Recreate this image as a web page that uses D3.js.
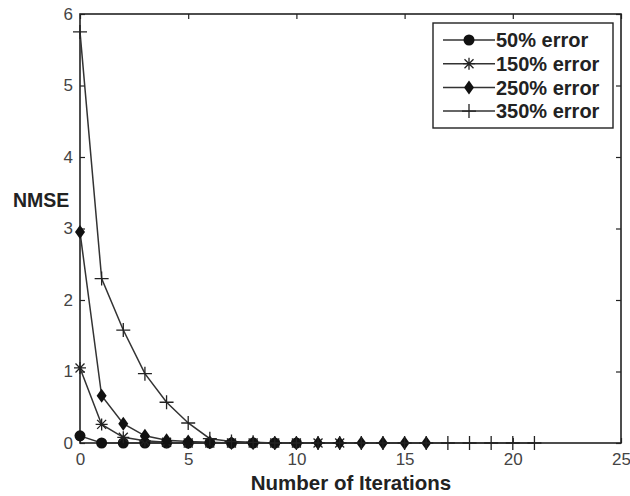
<!DOCTYPE html>
<html><head><meta charset="utf-8">
<script src="https://cdn.jsdelivr.net/npm/d3@7"></script>
<style>body{margin:0;background:#fff}</style>
</head><body><svg id="c" width="630" height="496"></svg>
<script>
const xTicks = [0,5,10,15,20,25];
const yTicks = [0,1,2,3,4,5,6];
const seriesNames = ["50% error","150% error","250% error","350% error"];
const seriesMarkers = ["circle","star","diamond","plus"];
const s50  = [0.10,0,0,0,0,0,0,0,0,0,0];
const s150 = [1.05,0.26,0.08,0.03,0.01,0,0,0,0,0,0,0,0];
const s250 = [2.95,0.66,0.27,0.10,0.04,0.02,0.01,0,0,0,0,0,0,0,0,0,0];
const s350 = [5.75,2.30,1.58,0.97,0.57,0.28,0.06,0.02,0.01,0,0,0,0,0,0,0,0,0,0,0,0,0];
const seriesData = [s50,s150,s250,s350];

const svg = d3.select("#c");
const L=80,R=621,T=14,B=443;
const x = d3.scaleLinear().domain([0,25]).range([L,R]);
const y = d3.scaleLinear().domain([0,6]).range([B,T]);
const col="#222";
const FF="Liberation Sans, Arial, sans-serif";
const g = svg.append("g");

g.append("rect").attr("x",L).attr("y",T).attr("width",R-L).attr("height",B-T)
 .attr("fill","none").attr("stroke",col).attr("stroke-width",1.6);

const xa = d3.axisBottom(x).tickValues(xTicks).tickFormat(d3.format("d")).tickSize(-5).tickPadding(10);
const ya = d3.axisLeft(y).tickValues(yTicks).tickFormat(d3.format("d")).tickSize(-5).tickPadding(7);
const gx = g.append("g").attr("transform",`translate(0,${B})`).call(xa);
const gy = g.append("g").attr("transform",`translate(${L},0)`).call(ya);
g.append("g").attr("transform",`translate(0,${T})`).call(d3.axisTop(x).tickValues(xTicks).tickSize(-5).tickFormat(""));
g.append("g").attr("transform",`translate(${R},0)`).call(d3.axisRight(y).tickValues(yTicks).tickSize(-5).tickFormat(""));
g.selectAll(".domain").remove();
g.selectAll(".tick line").attr("stroke",col).attr("stroke-width",1.2);
g.selectAll(".tick text").attr("font-family",FF).attr("font-size",17).attr("fill","#444");
gx.selectAll(".tick text").attr("dy","0.72em");

function marker(sel, type){
  if(type==="circle") sel.append("circle").attr("r",5.5).attr("fill","#111");
  else if(type==="diamond") sel.append("path").attr("d","M0,-7L5,0L0,7L-5,0Z").attr("fill","#111");
  else if(type==="plus") sel.append("path").attr("d","M-7,0H7M0,-7V7").attr("stroke","#222").attr("stroke-width",1.3);
  else if(type==="star") sel.append("path").attr("d","M-6,0H6M0,-6V6M-4.5,-4.5L4.5,4.5M-4.5,4.5L4.5,-4.5").attr("stroke","#222").attr("stroke-width",1.3);
}
const line = d3.line().x((d,i)=>x(i)).y(d=>y(d));
seriesData.forEach(arr=>{
  g.append("path").attr("d",line(arr)).attr("fill","none").attr("stroke","#333").attr("stroke-width",1.5);
});
seriesData.forEach((arr,k)=>{
  arr.forEach((d,i)=>{
    marker(g.append("g").attr("transform",`translate(${x(i)},${y(d)})`), seriesMarkers[k]);
  });
});

const lg = svg.append("g");
lg.append("rect").attr("x",433).attr("y",23).attr("width",180).attr("height",105)
 .attr("fill","#fff").attr("stroke",col).attr("stroke-width",1.4);
seriesNames.forEach((n,k)=>{
  const yy = 40 + k*23.7;
  lg.append("line").attr("x1",443).attr("x2",495).attr("y1",yy).attr("y2",yy).attr("stroke","#333").attr("stroke-width",1.5);
  marker(lg.append("g").attr("transform",`translate(469,${yy})`), seriesMarkers[k]);
  lg.append("text").attr("x",496).attr("y",yy).attr("dy","0.36em").text(n)
    .attr("font-family",FF).attr("font-weight","bold").attr("font-size",20).attr("fill","#222");
});

svg.append("text").attr("x",351).attr("y",490).attr("text-anchor","middle").text("Number of Iterations")
  .attr("font-family",FF).attr("font-weight","bold").attr("font-size",20.5).attr("fill","#222");
svg.append("text").attr("x",13).attr("y",207).text("NMSE")
  .attr("font-family",FF).attr("font-weight","bold").attr("font-size",19.5).attr("fill","#222");
</script></body></html>
